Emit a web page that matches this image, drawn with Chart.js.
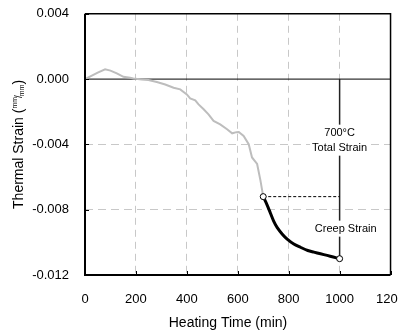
<!DOCTYPE html>
<html lang="en">
<head>
<meta charset="UTF-8">
<title>Thermal Strain vs Heating Time</title>
<script src="https://cdn.jsdelivr.net/npm/chart.js@4.4.1/dist/chart.umd.min.js"></script>
<style>
    html, body {
        margin: 0;
        padding: 0;
        background: #fff;
        overflow: hidden;
    }
    #wrap {
        width: 398px;
        height: 331px;
        overflow: hidden;
    }
    #strainChart {
        display: block;
        margin-top: -10px;
    }
</style>
</head>
<body>
<div id="wrap"><canvas id="strainChart" width="422" height="341"></canvas></div>
<script>
// heating phase (grey curve)
const heatTime = [0, 25, 50, 79, 100, 125, 151, 177, 190, 223, 249, 282, 315, 348, 374, 400,
    413, 433, 446, 466, 485, 505, 531, 558, 578, 595, 604, 623, 643, 656, 676, 689, 700];
const heatStrain = [0, 0.0002, 0.0004, 0.0006, 0.00052, 0.00035, 0.00014, 0.00008, 0.00004, -0.00002,
    -0.00006, -0.00018, -0.00033, -0.00053, -0.00063, -0.00094, -0.00118, -0.0013, -0.00155, -0.00185,
    -0.00216, -0.00256, -0.00277, -0.00307, -0.00332, -0.00325, -0.00324, -0.00348, -0.00399, -0.0048,
    -0.0052, -0.0062, -0.0072];

// creep phase at 700 C (black curve)
const creepTime = [700, 715, 728, 741, 755, 775, 794, 820, 846, 875, 899, 925, 951, 975, 1000];
const creepStrain = [-0.0072, -0.0077, -0.0082, -0.0087, -0.0091, -0.0095, -0.0098, -0.0101,
    -0.0103, -0.0105, -0.0106, -0.0107, -0.0108, -0.0109, -0.011];

// start / end of the creep stage
const endTime = [700, 1000];
const endStrain = [-0.0072, -0.011];

const xTicks = [0, 200, 400, 600, 800, 1000, 1200];
const yTicks = [-0.012, -0.008, -0.004, 0, 0.004];
const yTickLabels = ['-0.012', '-0.008', '-0.004', '0.000', '0.004'];

// annotation texts
const noteText = ['700°C', 'Total Strain', 'Creep Strain'];
const noteTime = [1000, 1000, 1024];
const noteStrain = [-0.00328, -0.0042, -0.00916];

const FONT = '"Liberation Sans", Arial, sans-serif';
const SHIFT = 10; // canvas is pulled up by this many px

function pts(xs, ys) {
    return xs.map((x, i) => ({ x: x, y: ys[i] }));
}

const framePlugin = {
    id: 'frame',
    afterDatasetsDraw(chart) {
        const { ctx, chartArea: a, scales } = chart;
        const sx = scales.x, sy = scales.y;
        ctx.save();

        // labels on white boxes
        ctx.font = '11px ' + FONT;
        ctx.textAlign = 'center';
        ctx.textBaseline = 'middle';
        noteText.forEach((t, i) => {
            const px = sx.getPixelForValue(noteTime[i]);
            const py = sy.getPixelForValue(noteStrain[i]);
            const w = ctx.measureText(t).width;
            ctx.fillStyle = '#fff';
            ctx.fillRect(px - w / 2 - 2, py - 8, w + 4, 16);
            ctx.fillStyle = '#000';
            ctx.fillText(t, px, py);
        });

        // frame
        ctx.strokeStyle = '#000';
        ctx.lineWidth = 1.5;
        ctx.beginPath();
        ctx.moveTo(a.left, a.top);
        ctx.lineTo(a.right, a.top);
        ctx.lineTo(a.right, a.bottom);
        ctx.stroke();
        ctx.lineWidth = 2;
        ctx.beginPath();
        ctx.moveTo(a.left, a.top);
        ctx.lineTo(a.left, a.bottom);
        ctx.lineTo(a.right, a.bottom);
        ctx.stroke();

        // inside tick marks
        ctx.lineWidth = 1;
        ctx.beginPath();
        xTicks.forEach(v => {
            const px = Math.round(sx.getPixelForValue(v)) + 0.5;
            ctx.moveTo(px, a.bottom);
            ctx.lineTo(px, a.bottom - 4);
        });
        yTicks.forEach(v => {
            const py = Math.round(sy.getPixelForValue(v)) + 0.5;
            ctx.moveTo(a.left, py);
            ctx.lineTo(a.left + 4, py);
        });
        ctx.stroke();
        ctx.restore();
    },
    afterDraw(chart) {
        const { ctx, chartArea: a } = chart;
        ctx.save();
        ctx.fillStyle = '#000';

        // x title
        ctx.font = '14px ' + FONT;
        ctx.textAlign = 'center';
        ctx.textBaseline = 'alphabetic';
        ctx.fillText('Heating Time (min)', 228, 327 + SHIFT);

        // y title with mm/mm fraction
        const main = 'Thermal Strain (';
        ctx.translate(23, (a.top + a.bottom) / 2);
        ctx.rotate(-Math.PI / 2);
        ctx.textAlign = 'left';
        ctx.font = '14px ' + FONT;
        const wMain = ctx.measureText(main).width;
        const wClose = ctx.measureText(')').width;
        ctx.font = '7px ' + FONT;
        const wmm = ctx.measureText('mm').width;
        ctx.font = '10px ' + FONT;
        const wSl = ctx.measureText('/').width;
        const total = wMain + wmm * 2 + wSl + wClose - 2;
        let cx = -total / 2;
        ctx.font = '14px ' + FONT;
        ctx.fillText(main, cx, 0);
        cx += wMain;
        ctx.font = '7px ' + FONT;
        ctx.fillText('mm', cx, -6);
        cx += wmm - 1;
        ctx.font = '10px ' + FONT;
        ctx.fillText('/', cx, -1);
        cx += wSl - 1;
        ctx.font = '7px ' + FONT;
        ctx.fillText('mm', cx, 1);
        cx += wmm;
        ctx.font = '14px ' + FONT;
        ctx.fillText(')', cx, 0);
        ctx.restore();
    }
};

const ctx = document.getElementById('strainChart').getContext('2d');
new Chart(ctx, {
    type: 'line',
    data: {
        datasets: [
            {
                // end points of the creep stage
                data: pts(endTime, endStrain),
                showLine: false,
                pointRadius: 3,
                pointBackgroundColor: '#fff',
                pointBorderColor: '#000',
                pointBorderWidth: 1,
                order: 0
            },
            {
                data: pts(creepTime, creepStrain),
                borderColor: '#000',
                borderWidth: 3,
                pointRadius: 0,
                tension: 0.3,
                order: 1
            },
            {
                // creep strain reference level
                data: pts(endTime, [endStrain[0], endStrain[0]]),
                borderColor: '#000',
                borderWidth: 1,
                borderDash: [3, 2],
                pointRadius: 0,
                order: 2
            },
            {
                // total strain dimension line
                data: pts([endTime[1], endTime[1]], [0, endStrain[1]]),
                borderColor: '#222',
                borderWidth: 1.5,
                pointRadius: 0,
                order: 3
            },
            {
                data: pts(heatTime, heatStrain),
                borderColor: '#bdbdbd',
                borderWidth: 2,
                pointRadius: 0,
                order: 4
            },
            {
                // zero line
                data: pts([xTicks[0], xTicks[xTicks.length - 1]], [0, 0]),
                borderColor: '#000',
                borderWidth: 1,
                pointRadius: 0,
                order: 5
            }
        ]
    },
    options: {
        responsive: false,
        animation: false,
        devicePixelRatio: 1,
        layout: {
            padding: { left: 0, top: 0, right: 0, bottom: 0 }
        },
        plugins: {
            legend: { display: false },
            tooltip: { enabled: false }
        },
        scales: {
            x: {
                type: 'linear',
                min: 0,
                max: 1200,
                afterBuildTicks: s => { s.ticks = xTicks.map(v => ({ value: v })); },
                afterFit: s => { s.height = 56; },
                border: { display: false, dash: [7, 5] },
                grid: {
                    drawTicks: false,
                    color: c => (c.tick && (c.tick.value === 0 || c.tick.value === 1200)) ? 'rgba(0,0,0,0)' : '#c8c8c8',
                    lineWidth: 1
                },
                ticks: {
                    padding: 17,
                    color: '#000',
                    font: { family: FONT, size: 13 },
                    maxRotation: 0,
                    callback: v => String(v)
                }
            },
            y: {
                type: 'linear',
                min: -0.012,
                max: 0.004,
                afterBuildTicks: s => { s.ticks = yTicks.map(v => ({ value: v })); },
                afterFit: s => { s.width = 85; },
                border: { display: false, dash: [8, 5] },
                grid: {
                    drawTicks: false,
                    color: c => (c.tick && (c.tick.value === -0.004 || c.tick.value === -0.008)) ? '#c8c8c8' : 'rgba(0,0,0,0)',
                    lineWidth: 1
                },
                ticks: {
                    padding: 16,
                    color: '#000',
                    font: { family: FONT, size: 13 },
                    callback: (v, i) => yTickLabels[i]
                }
            }
        }
    },
    plugins: [framePlugin]
});
</script>
</body>
</html>
